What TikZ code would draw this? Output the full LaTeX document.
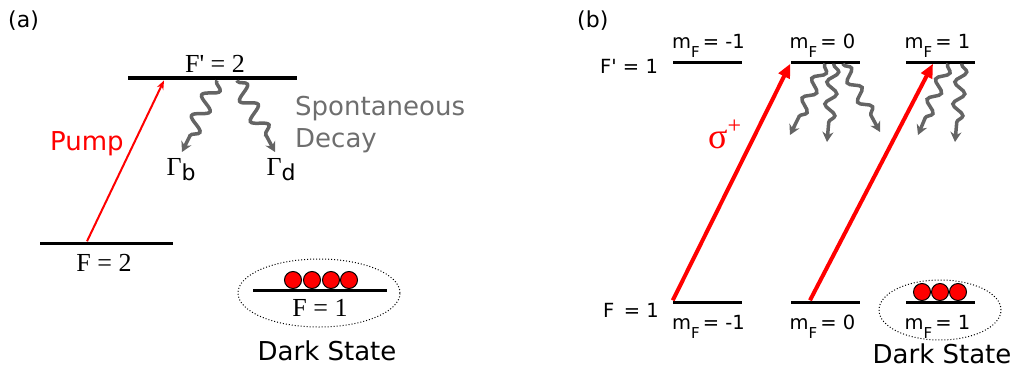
\documentclass[tikz,border=0pt]{standalone}
\usepackage{fontspec}
\setmainfont{Liberation Serif}
\setsansfont{DejaVu Sans}
\usetikzlibrary{arrows.meta,positioning,shapes.geometric,decorations.pathmorphing}
\definecolor{LvlRed}{RGB}{255,0,0}
\definecolor{LvlGray}{RGB}{100,100,100}
\definecolor{LvlText}{RGB}{110,110,110}
\newcommand{\lvlmF}[1]{m\raisebox{-9pt}{\fontsize{15}{15}\selectfont F}\,= #1}
\newcommand{\lvlGam}[1]{Γ\raisebox{-5pt}{\sffamily\fontsize{22}{22}\selectfont #1}}
\tikzset{
  lvl/bar/.style={
    fill=black,
    inner sep=0pt,
    minimum height=3pt
  },
  lvl/tag/.style={font=\sffamily\fontsize{22}{26}\selectfont, inner sep=0pt},
  lvl/serif/.style={font=\fontsize{26}{30}\selectfont, inner sep=0pt},
  lvl/sans/.style={font=\sffamily\fontsize{26}{30}\selectfont, inner sep=0pt},
  lvl/small/.style={font=\sffamily\fontsize{19.5}{22}\selectfont, inner sep=0pt},
  lvl/atom/.style={
    circle,
    fill=LvlRed,
    draw=black,
    line width=1pt,
    minimum size=17pt,
    inner sep=0pt
  },
  lvl/dark/.style={ellipse, draw=black, dotted, line width=1pt, inner sep=0pt},
  lvl/pump/.style={-{Stealth[length=9pt,width=7pt]}, line width=2pt, draw=LvlRed},
  lvl/sigma/.style={-{Triangle[length=14pt,width=12pt]}, line width=4pt, draw=LvlRed},
  lvl/decay/.style={
    -{Stealth[length=10pt,width=11pt]},
    line width=3.5pt,
    draw=LvlGray,
    decorate,
    decoration={snake, amplitude=7.5pt, segment length=23pt, pre length=1pt, post length=14pt}
  },
  lvl/decayb/.style={lvl/decay, decoration={snake, amplitude=5.5pt, segment length=22pt, pre length=1pt, post length=16pt}}
}

\begin{document}
\begin{tikzpicture}[x=1pt,y=-1pt]
  \useasboundingbox (0,0) rectangle (1021,370);

  % (a)
  \node[lvl/tag,anchor=base west] (tagA) at (8,27) {(a)};
  \node[lvl/bar,minimum width=169pt,minimum height=4.5pt] (Fp2) at (212.5,78) {};
  \node[lvl/bar,minimum width=133pt] (F2) at (106.5,243) {};
  \node[lvl/bar,minimum width=134pt] (F1) at (320,290) {};
  \node[lvl/serif,anchor=base] (Fp2lbl) at (215,72) {F\textquotesingle{} = 2};
  \node[lvl/serif,anchor=base] (F2lbl) at (104,271) {F = 2};
  \node[lvl/serif,anchor=base] (F1lbl) at (320,316) {F = 1};
  \node[lvl/sans,anchor=base west,text=LvlRed] (pumpLbl) at (50,150) {Pump};
  \node[lvl/sans,anchor=base west,text=LvlText] (spont) at (295,115) {Spontaneous};
  \node[lvl/sans,anchor=base west,text=LvlText] (decay) at (295,147) {Decay};
  \node[lvl/serif,anchor=base] (gamB) at (181,175) {\lvlGam{b}};
  \node[lvl/serif,anchor=base] (gamD) at (281,175) {\lvlGam{d}};
  \node[lvl/dark,minimum width=162pt,minimum height=68pt] (darkA) at (319,293) {};
  \foreach \i/\x in {1/293,2/312,3/331,4/349}
    \node[lvl/atom] (atomA\i) at (\x,280) {};
  \node[lvl/sans,anchor=base] (darkAlbl) at (327,360) {Dark State};

  \coordinate (gamBend) at (182,152);
  \coordinate (gamDend) at (275,152);
  \draw[lvl/pump] ([xshift=-19.5pt]F2.north) -- ([xshift=-48.5pt]Fp2.south);
  \draw[lvl/decay] ([xshift=4.5pt]Fp2.south) -- (gamBend);
  \draw[lvl/decay] ([xshift=24.5pt]Fp2.south) -- (gamDend);

  % (b)
  \node[lvl/tag,anchor=base west] (tagB) at (577,27) {(b)};
  \node[lvl/small,anchor=base west] (Fp1lbl) at (600,73) {F\textquotesingle{} = 1};
  \node[lvl/small,anchor=base west] (Fb1lbl) at (603,317) {F\, = 1};
  \foreach \n/\x/\v in {m1/707.5/-1,z0/825/0,p1/940/1} {
    \node[lvl/bar,minimum width=69pt] (E\n) at (\x,62) {};
    \node[lvl/bar,minimum width=69pt] (G\n) at (\x,302) {};
    \node[lvl/small,anchor=base west] (E\n lbl) at ([xshift=-1pt]E\n.west |- 0,48) {\lvlmF{\v}};
    \node[lvl/small,anchor=base west] (G\n lbl) at ([xshift=-1pt]G\n.west |- 0,329) {\lvlmF{\v}};
  }
  \node[lvl/dark,minimum width=122pt,minimum height=60pt] (darkB) at (940,310) {};
  \foreach \i/\x in {1/922,2/940,3/958}
    \node[lvl/atom] (atomB\i) at (\x,292) {};
  \node[lvl/sans,anchor=base] (darkBlbl) at (942,363) {Dark State};
  \node[font=\fontsize{36}{40}\selectfont,text=LvlRed,inner sep=0pt,anchor=base west] (sigma) at (708,148)
    {σ\raisebox{15pt}{\fontsize{24}{24}\selectfont +}};

  \draw[lvl/sigma] (Gm1.north west) -- (Ez0.south west);
  \draw[lvl/sigma] ([xshift=-15pt]Gz0.north) -- ([xshift=-7pt]Ep1.south);
  \coordinate (dz1) at (790,135);
  \coordinate (dz2) at (827,142);
  \coordinate (dz3) at (880,132);
  \coordinate (dp1) at (918,135);
  \coordinate (dp2) at (955,142);
  \draw[lvl/decayb] (Ez0.south) -- (dz1);
  \draw[lvl/decayb] ([xshift=9pt]Ez0.south) -- (dz2);
  \draw[lvl/decayb] ([xshift=18pt]Ez0.south) -- (dz3);
  \draw[lvl/decayb] ([xshift=8pt]Ep1.south) -- (dp1);
  \draw[lvl/decayb] ([xshift=22pt]Ep1.south) -- (dp2);
\end{tikzpicture}
\end{document}
